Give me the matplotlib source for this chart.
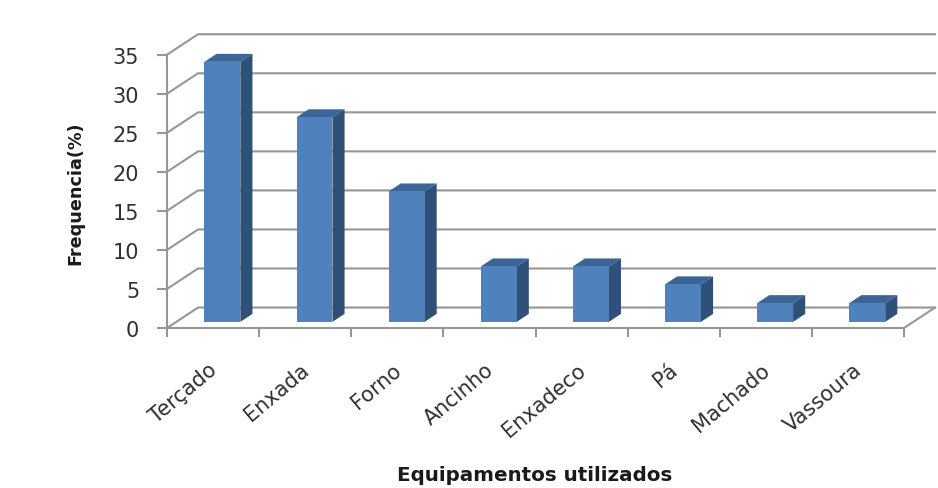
import matplotlib
matplotlib.use('Agg')
import matplotlib.pyplot as plt
from matplotlib.patches import Polygon

categorias = ['Terçado', 'Enxada', 'Forno', 'Ancinho', 'Enxadeco', 'Pá', 'Machado', 'Vassoura']
frequencia = [33.3, 26.2, 16.7, 7.1, 7.1, 4.8, 2.4, 2.4]
y_ticks = [0, 5, 10, 15, 20, 25, 30, 35]

W, H = 938, 489
GRID = '#969696'
FRONT = '#4f81bd'
SIDE = '#2f5079'
TOP = '#3a6595'

# fake 3d: a point at depth d moves right and up
DX = 0.337
DY = 2.62


def depth(x, y, d):
    return (x + d * DX, y + d * DY)


fig = plt.figure(figsize=(W / 100, H / 100), dpi=100, facecolor='white')
ax = fig.add_axes([167 / W, 1 - 329 / H, (904 - 167) / W, (329 - 55.7) / H])
ax.set_xlim(-0.5, 7.5)
ax.set_ylim(0, 35)
ax.axis('off')

# back wall and floor
for v in y_ticks:
    xs = [-0.5, depth(-0.5, v, 1)[0], depth(7.5, v, 1)[0]]
    ys = [v, v + DY, v + DY]
    ax.plot(xs, ys, color=GRID, lw=1.5, clip_on=False, zorder=1)
    ax.plot([-0.5, -0.5 - 0.1], [v, v], color=GRID, lw=1.5, clip_on=False, zorder=2)
    ax.text(-0.8, v - 0.25, str(v), ha='right', va='center', fontsize=15, color='#303030')
ax.plot([7.5, depth(7.5, 0, 1)[0]], [0, DY], color=GRID, lw=1.5, clip_on=False, zorder=1)

# front axes
ax.plot([-0.5, -0.5], [0, 35], color=GRID, lw=1.5, clip_on=False, zorder=2)
ax.plot([-0.5, 7.5], [0, 0], color=GRID, lw=1.5, clip_on=False, zorder=2)
for i in range(9):
    ax.plot([i - 0.5, i - 0.5], [0, -1], color=GRID, lw=1.5, clip_on=False, zorder=2)

# bars
d0, d1 = 0.3, 0.69
w = 0.39
for i, v in enumerate(frequencia):
    x0, x1 = i - w / 2, i + w / 2
    fl = depth(x0, 0, d0)
    fr = depth(x1, 0, d0)
    tl = depth(x0, v, d0)
    tr = depth(x1, v, d0)
    br = depth(x1, 0, d1)
    trb = depth(x1, v, d1)
    tlb = depth(x0, v, d1)
    ax.add_patch(Polygon([fr, br, trb, tr], fc=SIDE, ec='none', clip_on=False, zorder=3))
    ax.add_patch(Polygon([tl, tr, trb, tlb], fc=TOP, ec='none', clip_on=False, zorder=3))
    ax.add_patch(Polygon([fl, fr, tr, tl], fc=FRONT, ec='none', clip_on=False, zorder=4))

# labels
for i, c in enumerate(categorias):
    ax.annotate(c, (i, 0), xytext=(-5, -31), textcoords='offset pixels', rotation=40,
                ha='right', va='top', rotation_mode='anchor', fontsize=15, color='#303030')

fig.text(75 / W, 1 - 193 / H, 'Frequencia(%)', rotation=90, ha='center', va='center',
         fontsize=12.7, fontweight='bold', color='#1a1a1a')
fig.text(535 / W, 1 - 476 / H, 'Equipamentos utilizados', ha='center', va='center',
         fontsize=14.3, fontweight='bold', color='#1a1a1a')

fig.savefig('out.png', dpi=100)
